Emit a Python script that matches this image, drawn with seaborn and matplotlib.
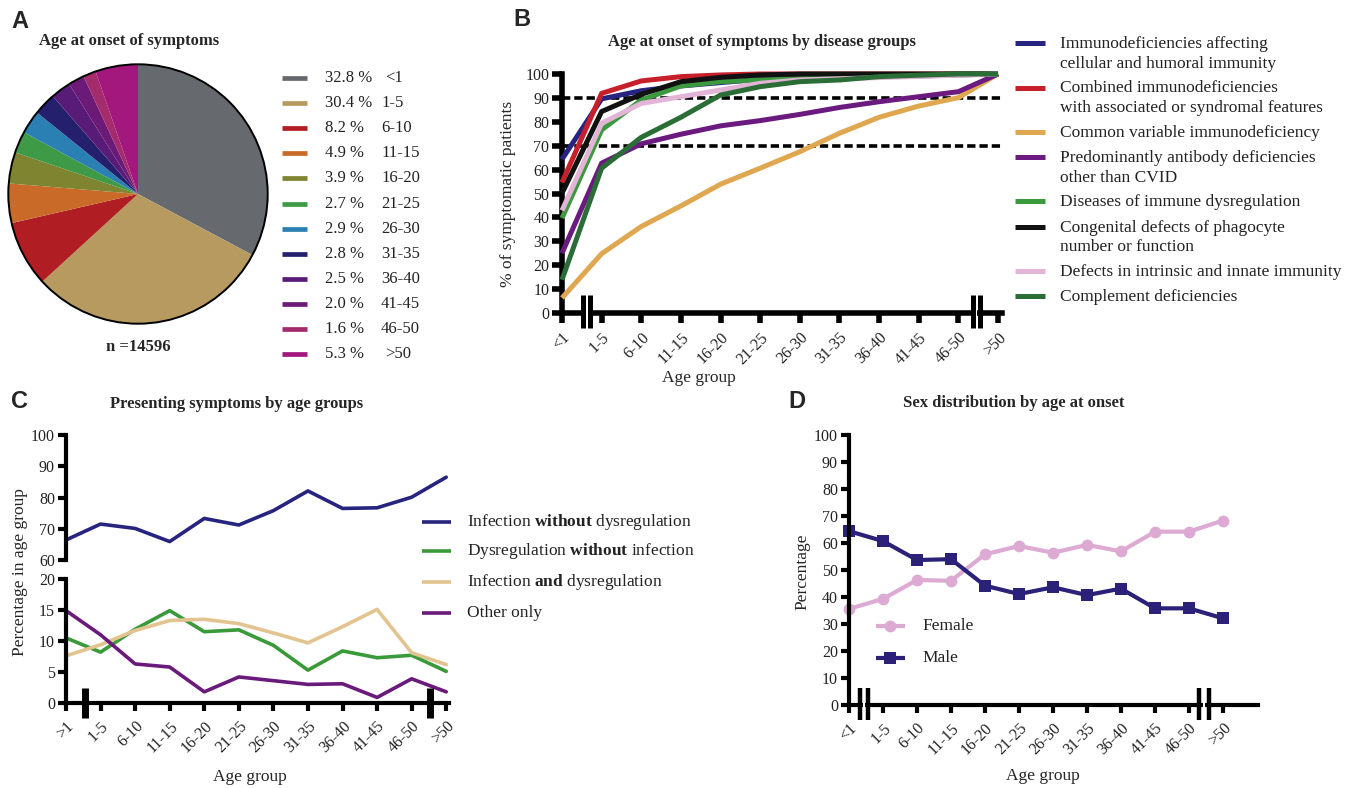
import numpy as np
import pandas as pd
import matplotlib
matplotlib.use("Agg")
import matplotlib.pyplot as plt
import seaborn as sns
from matplotlib.lines import Line2D
from matplotlib.patches import Circle

# ---------------- DATA ----------------
age_groups = ['<1', '1-5', '6-10', '11-15', '16-20', '21-25', '26-30',
              '31-35', '36-40', '41-45', '46-50', '>50']
age_groups_c = ['>1', '1-5', '6-10', '11-15', '16-20', '21-25', '26-30',
                '31-35', '36-40', '41-45', '46-50', '>50']

# Panel A
pie_pct = [32.8, 30.4, 8.2, 4.9, 3.9, 2.7, 2.9, 2.8, 2.5, 2.0, 1.6, 5.3]
pie_colors = ['#666a6e', '#b69a5f', '#b01e24', '#c96a28', '#7f8431', '#3f9a47',
              '#2a80b2', '#25206e', '#581c78', '#6c1a78', '#a42b6c', '#a3187c']
n_total = 14596

# Panel B (cumulative % of symptomatic patients)
b_groups = ['Immunodeficiencies affecting\ncellular and humoral immunity',
            'Combined immunodeficiencies\nwith associated or syndromal features',
            'Common variable immunodeficiency',
            'Predominantly antibody deficiencies\nother than CVID',
            'Diseases of immune dysregulation',
            'Congenital defects of phagocyte\nnumber or function',
            'Defects in intrinsic and innate immunity',
            'Complement deficiencies']
b_colors = ['#272482', '#c8202b', '#e0a751', '#6b1a80', '#3b9a3e', '#111111',
            '#e2b4d6', '#2a6d36']
b_cellular = [64.3, 89.6, 93.0, 95.0, 96.4, 97.8, 98.2, 98.6, 98.9, 99.2, 99.6, 100]
b_combined = [54.6, 91.9, 97.1, 98.9, 99.6, 100, 100, 100, 100, 100, 100, 100]
b_cvid = [6.3, 24.8, 36.2, 44.8, 53.9, 60.6, 67.5, 75.2, 81.9, 86.6, 90.1, 100]
b_pad = [25.0, 62.7, 70.8, 74.8, 78.3, 80.5, 83.1, 86.0, 88.4, 90.5, 92.6, 100]
b_dysreg = [39.7, 76.6, 89.1, 95.0, 96.8, 97.5, 98.0, 98.5, 99.0, 99.5, 100, 100]
b_phago = [50.1, 84.3, 91.5, 96.8, 98.6, 99.6, 100, 100, 100, 100, 100, 100]
b_innate = [42.9, 79.4, 87.7, 90.5, 93.3, 96.1, 97.5, 98.0, 98.5, 99.0, 99.5, 100]
b_complement = [13.9, 60.6, 73.5, 81.9, 91.2, 94.7, 96.8, 97.5, 98.9, 99.5, 100, 100]
b_series = [b_cellular, b_combined, b_cvid, b_pad, b_dysreg, b_phago, b_innate, b_complement]
b_ref_lines = [90, 70]

# Panel C
c_groups = ['Infection $\\mathbf{without}$ dysregulation',
            'Dysregulation $\\mathbf{without}$ infection',
            'Infection $\\mathbf{and}$ dysregulation',
            'Other only']
c_colors = ['#272480', '#3a9a3a', '#e3c38f', '#6a1a7a']
c_inf_only = [66.4, 71.5, 70.1, 65.9, 73.3, 71.2, 75.8, 82.1, 76.5, 76.7, 80.1, 86.5]
c_dys_only = [10.5, 8.2, 11.9, 14.9, 11.5, 11.8, 9.3, 5.3, 8.4, 7.3, 7.7, 5.1]
c_inf_dys = [7.6, 9.4, 11.7, 13.3, 13.5, 12.8, 11.3, 9.7, 12.3, 15.1, 8.1, 6.2]
c_other = [14.9, 11.0, 6.3, 5.8, 1.8, 4.2, 3.6, 3.0, 3.1, 0.9, 3.9, 1.8]

# Panel D
d_groups = ['Female', 'Male']
d_colors = ['#dcaad3', '#2b2178']
d_female = [35.6, 39.3, 46.3, 46.0, 55.8, 58.9, 56.4, 59.3, 56.9, 64.2, 64.2, 68.3]
d_male = [64.4, 60.7, 53.7, 54.0, 44.2, 41.1, 43.6, 40.7, 43.1, 35.8, 35.8, 32.1]

# ---------------- STYLE ----------------
sns.set_theme(style="ticks")
plt.rcParams['font.family'] = ['Liberation Serif', 'DejaVu Serif']
plt.rcParams['mathtext.fontset'] = 'custom'
plt.rcParams['mathtext.rm'] = 'Liberation Serif'
plt.rcParams['mathtext.bf'] = 'Liberation Serif:bold'
plt.rcParams['axes.facecolor'] = 'white'

W, H = 1357, 788
fig = plt.figure(figsize=(W / 100, H / 100), dpi=100)


def fx(x):
    return x / W


def fy(y):
    return 1 - y / H


def ax_at(l, t, r, b):
    return fig.add_axes([l / W, 1 - b / H, (r - l) / W, (b - t) / H])


TICK_FS = 11.5
LAB_FS = 12.5
TITLE_FS = 12
LEG_FS_A = 12
LEG_FS = 12.5


def style_axis(ax, lw, ticklen, hide_bottom=False):
    for s in ['top', 'right']:
        ax.spines[s].set_visible(False)
    ax.spines['left'].set_linewidth(lw)
    ax.spines['bottom'].set_linewidth(lw)
    ax.spines['left'].set_color('black')
    ax.spines['bottom'].set_color('black')
    ax.tick_params(axis='both', direction='out', length=ticklen, width=lw,
                   color='black', labelsize=TICK_FS, labelcolor='#222222', pad=2)
    ax.tick_params(axis='x', pad=5)
    if hide_bottom:
        ax.spines['bottom'].set_visible(False)
        ax.tick_params(axis='x', bottom=False, labelbottom=False)
    ax.grid(False)


def set_age_ticks(ax, labels):
    ax.set_xticks(range(len(labels)))
    ax.set_xticklabels(labels, rotation=45, ha='right', va='top',
                       rotation_mode='anchor')


def break_mark(ax, xs, y0, y1, lw, gap_lw=None):
    tr = ax.get_xaxis_transform()
    if gap_lw is not None and len(xs) == 2:
        xm = (xs[0] + xs[1]) / 2
        ax.plot([xm, xm], [-0.02, 0.02], color='white', lw=gap_lw, transform=tr,
                clip_on=False, zorder=20, solid_capstyle='butt')
    for x in xs:
        ax.plot([x, x], [y0, y1], color='black', lw=lw, transform=tr,
                clip_on=False, zorder=21, solid_capstyle='butt')


def long_df(groups, series):
    rows = []
    for g, vals in zip(groups, series):
        for i, v in enumerate(vals):
            rows.append((g, i, v))
    return pd.DataFrame(rows, columns=['group', 'pos', 'value'])


# ---------------- PANEL A ----------------
axA = ax_at(7, 63, 269, 325)
axA.pie(pie_pct, colors=pie_colors, startangle=90, counterclock=False,
        wedgeprops=dict(linewidth=0))
axA.add_patch(Circle((0, 0), 1, fill=False, lw=1.4, ec='black', clip_on=False))
axA.set_xlim(-1.01, 1.01)
axA.set_ylim(-1.01, 1.01)
axA.set_aspect('equal')
axA.axis('off')

for i, (p, lab, c) in enumerate(zip(pie_pct, age_groups, pie_colors)):
    y = 78 + i * 25.1
    fig.add_artist(Line2D([fx(282), fx(307)], [fy(y), fy(y)], color=c, lw=3.4,
                          solid_capstyle='butt'))
    fig.text(fx(325), fy(y), f"{p:.1f} %", fontsize=LEG_FS_A, va='center', ha='left',
             color='#222222')
    xl = 385 if lab[0] in '<>' else 381
    fig.text(fx(xl), fy(y), lab, fontsize=LEG_FS_A, va='center', ha='left',
             color='#222222')

fig.text(fx(138), fy(347), f"n ={n_total}", fontsize=12, fontweight='bold',
         ha='center', va='center')
fig.text(fx(129), fy(41), "Age at onset of symptoms", fontsize=TITLE_FS,
         fontweight='bold', ha='center', va='center')

# ---------------- PANEL B ----------------
axB = ax_at(562, 74, 1002, 313)
dfB = long_df(b_groups, b_series)
sns.lineplot(data=dfB, x='pos', y='value', hue='group', hue_order=b_groups,
             palette=dict(zip(b_groups, b_colors)), linewidth=3.6, legend=False,
             errorbar=None, ax=axB, zorder=3)
for ln in axB.lines:
    ln.set_clip_on(False)
    ln.set_solid_capstyle('butt')
for yv in b_ref_lines:
    axB.axhline(yv, color='black', lw=2.6, ls=(0, (2.3, 1.1)), zorder=2)
axB.set_xlim(0, 11.1)
axB.set_ylim(0, 100)
axB.set_yticks(range(0, 101, 10))
style_axis(axB, 4, 7)
set_age_ticks(axB, age_groups)
axB.set_xlabel('Age group', fontsize=LAB_FS, va='center')
axB.set_ylabel('% of symptomatic patients', fontsize=LAB_FS)
axB.yaxis.set_label_coords(-0.105, 0.5)
axB.xaxis.set_label_coords((699 - 562) / 440, -(378 - 313) / 239)
break_mark(axB, [0.53, 0.71], -0.063, 0.075, 3.6, gap_lw=1.5)
break_mark(axB, [10.36, 10.54], -0.063, 0.075, 3.6, gap_lw=1.5)
fig.text(fx(762), fy(42), "Age at onset of symptoms by disease groups",
         fontsize=TITLE_FS, fontweight='bold', ha='center', va='center')

# legend B
yy = 44
for g, c in zip(b_groups, b_colors):
    fig.add_artist(Line2D([fx(1015), fx(1045)], [fy(yy - 1), fy(yy - 1)], color=c,
                          lw=3.6, solid_capstyle='butt'))
    lines = g.split('\n')
    for k, t in enumerate(lines):
        fig.text(fx(1060), fy(yy + k * 19.5), t, fontsize=LEG_FS, va='center',
                 ha='left', color='#222222')
    yy += len(lines) * 19.5 + 5.5

# ---------------- PANEL C ----------------
axC1 = ax_at(66, 435, 449, 560)
axC2 = ax_at(66, 579, 449, 703)
dfC = long_df(c_groups, [c_inf_only, c_dys_only, c_inf_dys, c_other])
palC = dict(zip(c_groups, c_colors))
sns.lineplot(data=dfC[dfC.group == c_groups[0]], x='pos', y='value', hue='group',
             palette=palC, linewidth=2.6, legend=False, errorbar=None, ax=axC1)
sns.lineplot(data=dfC[dfC.group != c_groups[0]], x='pos', y='value', hue='group',
             hue_order=c_groups[1:], palette=palC, linewidth=2.6, legend=False,
             errorbar=None, ax=axC2)
for a in (axC1, axC2):
    for ln in a.lines:
        ln.set_clip_on(False)
    a.set_xlim(0, 11.08)
axC1.set_ylim(60, 100)
axC1.set_yticks(range(60, 101, 10))
axC2.set_ylim(0, 20)
axC2.set_yticks(range(0, 21, 5))
style_axis(axC1, 3, 6, hide_bottom=True)
style_axis(axC2, 3, 6)
axC1.set_xlabel('')
axC1.set_ylabel('')
set_age_ticks(axC2, age_groups_c)
axC2.set_xlabel('Age group', fontsize=LAB_FS, va='center')
axC2.xaxis.set_label_coords((250 - 66) / 383, -(777 - 703) / 124)
axC2.set_ylabel('')
fig.text(fx(20), fy(572), 'Percentage in age group', fontsize=LAB_FS,
         rotation=90, ha='center', va='center')
break_mark(axC2, [0.55], -0.121, 0.121, 5)
break_mark(axC2, [10.52], -0.121, 0.121, 5)
fig.text(fx(237), fy(404), "Presenting symptoms by age groups", fontsize=TITLE_FS,
         fontweight='bold', ha='center', va='center')

for g, c, y in zip(c_groups, c_colors, [522, 551, 582, 613]):
    fig.add_artist(Line2D([fx(422), fx(451)], [fy(y), fy(y)], color=c, lw=2.6,
                          solid_capstyle='butt'))
    fig.text(fx(467), fy(y), g, fontsize=LEG_FS, va='center', ha='left',
             color='#222222')

# ---------------- PANEL D ----------------
axD = ax_at(849, 435, 1258, 705)
dfD = long_df(d_groups, [d_female, d_male])
sns.lineplot(data=dfD, x='pos', y='value', hue='group', style='group',
             hue_order=d_groups, palette=dict(zip(d_groups, d_colors)),
             markers={'Female': 'o', 'Male': 's'}, dashes=False, linewidth=3,
             markersize=8.5, markeredgewidth=0, legend=False, errorbar=None, ax=axD)
for ln in axD.lines:
    ln.set_clip_on(False)
axD.set_xlim(0, 12.03)
axD.set_ylim(0, 100)
axD.set_yticks(range(0, 101, 10))
style_axis(axD, 3, 6)
set_age_ticks(axD, age_groups)
axD.set_xlabel('Age group', fontsize=LAB_FS, va='center')
axD.xaxis.set_label_coords((1043 - 849) / 409, -(776 - 705) / 270)
axD.set_ylabel('')
fig.text(fx(802), fy(572), 'Percentage', fontsize=LAB_FS, rotation=90,
         ha='center', va='center')
break_mark(axD, [0.32, 0.56], -0.056, 0.063, 3.2, gap_lw=1.5)
break_mark(axD, [10.29, 10.6], -0.056, 0.063, 3.2, gap_lw=1.5)
fig.text(fx(1014), fy(403), "Sex distribution by age at onset", fontsize=TITLE_FS,
         fontweight='bold', ha='center', va='center')

for g, c, m, y in zip(d_groups, d_colors, ['o', 's'], [626, 658]):
    fig.add_artist(Line2D([fx(876), fx(890), fx(905)], [fy(y)] * 3, color=c, lw=3,
                          marker=m, markevery=[1], markersize=8.5,
                          markeredgewidth=0, solid_capstyle='butt'))
    fig.text(fx(922), fy(y), g, fontsize=LEG_FS, va='center', ha='left',
             color='#222222')

# ---------------- PANEL LETTERS ----------------
for letter, x, y in [('A', 20, 22), ('B', 522, 20), ('C', 19, 402), ('D', 797, 401)]:
    fig.text(fx(x), fy(y), letter, fontsize=17, fontweight='bold',
             family=['Liberation Sans', 'DejaVu Sans'], ha='center', va='center')

fig.savefig('out.png', dpi=100, facecolor='white')
